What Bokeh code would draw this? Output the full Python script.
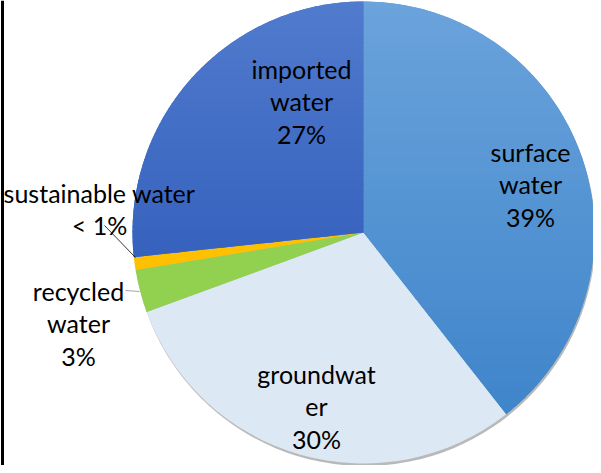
import math
from bokeh.plotting import figure
from bokeh.models import Range1d, Span, ColumnDataSource
from bokeh.core.properties import value
from bokeh.embed import file_html
from bokeh.resources import INLINE

# ---- data ----
categories = ["surface water", "groundwater", "recycled water", "sustainable water", "imported water"]
shares = [39.4, 30.0, 3.0, 0.9, 26.7]
pct_labels = ["39%", "30%", "3%", "< 1%", "27%"]
name_lines = [["surface", "water"], ["groundwat", "er"], ["recycled", "water"],
              ["sustainable water"], ["imported", "water"]]
colors = ["#5b9bd5", "#dde8f5", "#92d050", "#ffc000", "#4472c4"]
# vertical gradient (top, bottom) for shaded slices
gradients = {"surface water": ("#6ba3dc", "#3f85ca"),
             "imported water": ("#517bcd", "#3662be")}

# ---- layout ----
W, H = 593, 465
CX, CY, R = 363, 233, 231
label_anchor = [(530, 314), (316, 92), (78, 175), (99, 273), (301, 397)]
LINE_STEP = 32.5
FONT = "Lato"
FONT_SIZE = "25px"

total = sum(shares)
starts, ends = [], []
acc = 0.0
for s in shares:
    starts.append(math.pi / 2 - 2 * math.pi * acc / total)
    acc += s
    ends.append(math.pi / 2 - 2 * math.pi * acc / total)

p = figure(width=W, height=H, output_backend="svg", toolbar_location=None,
           x_range=Range1d(0, W), y_range=Range1d(0, H),
           x_axis_type=None, y_axis_type=None, min_border=0)
p.grid.visible = False
p.outline_line_color = None
p.background_fill_color = "white"
p.border_fill_color = "white"

# soft shadow under the pie
p.circle(x=[CX + 1], y=[CY - 2.5], radius=R, fill_color="#7f7f7f", fill_alpha=0.55,
         line_color=None)

src = ColumnDataSource(dict(cat=categories, share=shares, start=starts, end=ends, color=colors,
                            x=[CX] * len(shares), y=[CY] * len(shares)))
p.wedge(x="x", y="y", radius=R, start_angle="start", end_angle="end", direction="clock",
        fill_color="color", line_color=None, source=src)


# ---- gradient shading for the blue slices (bands clipped to each wedge) ----
def clip_half(poly, yc, keep_above):
    out = []
    n = len(poly)
    for i in range(n):
        a = poly[i]
        b = poly[(i + 1) % n]
        ina = a[1] >= yc if keep_above else a[1] <= yc
        inb = b[1] >= yc if keep_above else b[1] <= yc
        if ina:
            out.append(a)
        if ina != inb:
            t = (yc - a[1]) / (b[1] - a[1])
            out.append((a[0] + t * (b[0] - a[0]), yc))
    return out


def hex2rgb(h):
    h = h.lstrip("#")
    return tuple(int(h[i:i + 2], 16) for i in (0, 2, 4))


def mix(c1, c2, t):
    a, b = hex2rgb(c1), hex2rgb(c2)
    return "#%02x%02x%02x" % tuple(int(round(a[i] + (b[i] - a[i]) * t)) for i in range(3))


gx, gy, gc = [], [], []
for cat, st, en in zip(categories, starts, ends):
    if cat not in gradients:
        continue
    ctop, cbot = gradients[cat]
    n = 120
    poly = [(CX, CY)] + [(CX + R * math.cos(st + (en - st) * k / n),
                          CY + R * math.sin(st + (en - st) * k / n)) for k in range(n + 1)]
    ys = [q[1] for q in poly]
    ytop, ybot = max(ys), min(ys)
    nb = 50
    step = (ytop - ybot) / nb
    for j in range(nb):
        hi = ytop - j * step + 0.6
        lo = ytop - (j + 1) * step - 0.6
        part = clip_half(clip_half(poly, lo, True), hi, False)
        if len(part) < 3:
            continue
        gx.append([q[0] for q in part])
        gy.append([q[1] for q in part])
        gc.append(mix(ctop, cbot, (j + 0.5) / nb))
p.patches(xs=gx, ys=gy, fill_color=gc, line_color=None)

# labels
tx, ty, tt = [], [], []
for lines, pct, (ax, ay) in zip(name_lines, pct_labels, label_anchor):
    for i, ln in enumerate(lines + [pct]):
        tx.append(ax)
        ty.append(ay - i * LINE_STEP)
        tt.append(ln)
p.text(x=tx, y=ty, text=tt, text_align="center", text_baseline="alphabetic",
       text_font=value(FONT), text_font_size=FONT_SIZE, text_color="black")

# leader lines
p.segment(x0=[104], y0=[240], x1=[135], y1=[208], line_color="black", line_width=0.8)
p.segment(x0=[125], y0=[175], x1=[139], y1=[174], line_color="#a6a6a6", line_width=1)

# left frame line
p.add_layout(Span(location=2, dimension="height", line_color="black", line_width=3))

open("out.html", "w").write(file_html(p, INLINE))
